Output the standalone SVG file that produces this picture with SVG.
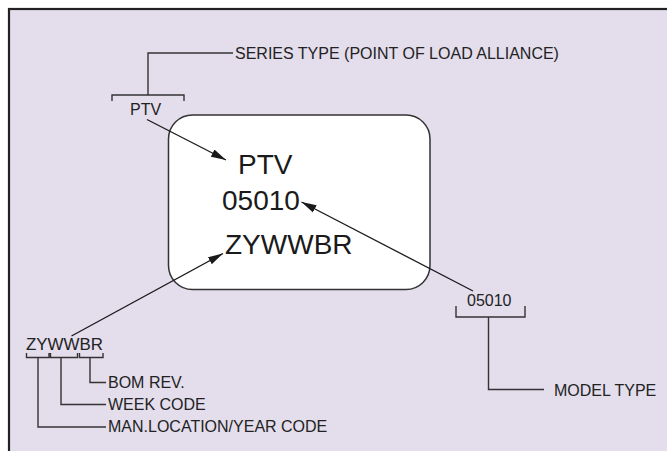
<svg xmlns="http://www.w3.org/2000/svg" width="667" height="451" viewBox="0 0 667 451">
<style>
.t{font-family:"Liberation Sans",Arial,sans-serif;font-size:16px;fill:#222}
.b{font-family:"Liberation Sans",Arial,sans-serif;font-size:28px;fill:#1a1a1a}
.l{fill:none;stroke:#333;stroke-width:1.4}
.a{fill:none;stroke:#1a1a1a;stroke-width:1.3}
</style>
<defs>
<marker id="ah" markerUnits="userSpaceOnUse" markerWidth="16" markerHeight="10" refX="15" refY="4" orient="auto" viewBox="0 0 16 8">
<path d="M0,0 L15,4 L0,8 Z" fill="#1a1a1a"/>
</marker>
</defs>
<rect x="0" y="0" width="667" height="451" fill="#fff"/>
<rect x="9" y="9" width="700" height="500" fill="#e3ddec" stroke="#222" stroke-width="2.2"/>
<g id="label-node">
<rect x="168.5" y="115" width="261.5" height="174.5" rx="24" ry="24" fill="#fff" stroke="#333" stroke-width="1.5"/>
<text class="b" x="238" y="174">PTV</text>
<text class="b" x="222" y="210">05010</text>
<text class="b" x="225" y="254">ZYWWBR</text>
</g>
<g id="series-node">
<text class="t" x="130" y="115">PTV</text>
<text class="t" x="235" y="58.5">SERIES TYPE (POINT OF LOAD ALLIANCE)</text>
</g>
<g id="model-node">
<text class="t" x="467" y="306">05010</text>
<text class="t" x="554" y="396">MODEL TYPE</text>
</g>
<g id="code-node">
<text class="t" x="26" y="350" textLength="77" lengthAdjust="spacingAndGlyphs">ZYWWBR</text>
<text class="t" x="108" y="387.5">BOM REV.</text>
<text class="t" x="108" y="409.5">WEEK CODE</text>
<text class="t" x="108" y="432">MAN.LOCATION/YEAR CODE</text>
</g>
<g id="connectors">
<path class="l" d="M112,101 V95 H184 V101 M148,95 V53 H233"/>
<path class="l" d="M456,306 V317 H525 V306 M488.5,317 V389.5 H544"/>
<path class="l" d="M26.5,353 V357.5 H49 V353 M50.5,353 V357.5 H77.5 V353 M79.5,353 V357.5 H103 V353"/>
<path class="l" d="M38,357.5 V427 H106 M61,357.5 V404.5 H106 M90,357.5 V382.5 H106"/>
<line class="a" x1="147" y1="119.5" x2="226" y2="160" marker-end="url(#ah)"/>
<line class="a" x1="473" y1="291" x2="301.5" y2="202" marker-end="url(#ah)"/>
<line class="a" x1="71.5" y1="336" x2="223" y2="253.5" marker-end="url(#ah)"/>
</g>
</svg>
